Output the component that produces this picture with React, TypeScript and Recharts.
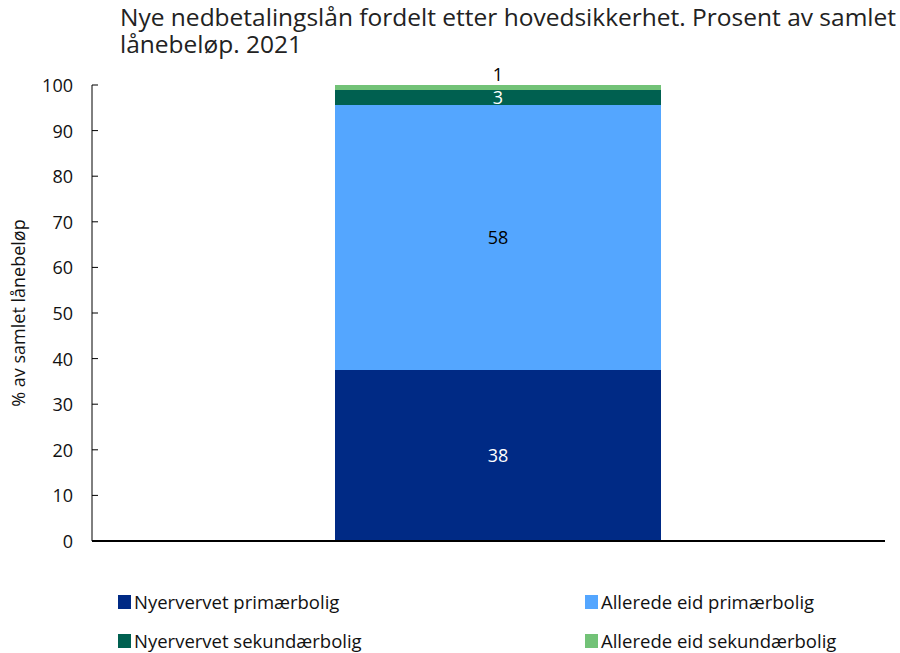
import { BarChart, Bar, XAxis, YAxis, LabelList, Legend } from "recharts";

const years = ["2021"];
const nyervervetPrimaer = [37.5];
const allerdeEidPrimaer = [58.1];
const nyervervetSekundaer = [3.3];
const allerdeEidSekundaer = [1.1];
const yTicks = [0, 10, 20, 30, 40, 50, 60, 70, 80, 90, 100];

const series = [
  { key: "np", name: "Nyervervet primærbolig", color: "#002A85", label: "#ffffff" },
  { key: "ap", name: "Allerede eid primærbolig", color: "#54A6FF", label: "#000000" },
  { key: "ns", name: "Nyervervet sekundærbolig", color: "#006050", label: "#ffffff" },
  { key: "as", name: "Allerede eid sekundærbolig", color: "#72C277", label: "#000000" },
];

const data = years.map((year, i) => ({
  year,
  np: nyervervetPrimaer[i],
  ap: allerdeEidPrimaer[i],
  ns: nyervervetSekundaer[i],
  as: allerdeEidSekundaer[i],
}));

const font = "'Open Sans', 'Noto Sans', sans-serif";

function LegendBox() {
  const pos = [
    { left: 118, top: 589 },
    { left: 585, top: 589 },
    { left: 118, top: 628 },
    { left: 585, top: 628 },
  ];
  return (
    <div>
      {series.map((s, i) => (
        <div
          key={s.key}
          style={{
            position: "absolute",
            left: pos[i].left,
            top: pos[i].top,
            display: "flex",
            alignItems: "center",
            fontSize: 18.5,
            color: "#111",
            fontFamily: font,
            whiteSpace: "nowrap",
          }}>
          <span style={{ width: 13, height: 14, background: s.color, display: "inline-block", marginRight: 3 }} />
          {s.name}
        </div>
      ))}
    </div>
  );
}

// inward tick marks like the original
function YTick(props: any) {
  const { x, y, payload } = props;
  return (
    <g>
      <line x1={x + 19} x2={x + 25} y1={y} y2={y} stroke="#000" />
      <text x={x} y={y} textAnchor="end" dominantBaseline="central" fontSize={18} fill="#111" fontFamily={font}>
        {payload.value}
      </text>
    </g>
  );
}

export default function App() {
  return (
    <div style={{ position: "absolute", left: 0, top: 0, width: 900, height: 653, fontFamily: font }}>
      <div
        style={{
          position: "absolute",
          left: 120,
          top: 3,
          width: 790,
          fontSize: 24.5,
          lineHeight: "27px",
          color: "#222",
        }}>
        Nye nedbetalingslån fordelt etter hovedsikkerhet. Prosent av samlet lånebeløp. 2021
      </div>
      <BarChart
        width={900}
        height={653}
        data={data}
        margin={{ top: 85, right: 15, left: 0, bottom: 82 }}
        barSize={326}>
        <XAxis
          dataKey="year"
          tick={false}
          tickLine={false}
          axisLine={{ stroke: "#000", strokeWidth: 2 }}
          padding={{ left: 18, right: 0 }}
          height={30}
        />
        <YAxis
          width={92}
          domain={[0, 100]}
          ticks={yTicks}
          interval={0}
          tickSize={0}
          tickMargin={19}
          axisLine={{ stroke: "#000" }}
          tickLine={false}
          tick={<YTick />}
          label={({ viewBox }: any) => (
            <text
              x={18}
              y={viewBox.y + viewBox.height / 2}
              transform={`rotate(-90, 18, ${viewBox.y + viewBox.height / 2})`}
              textAnchor="middle"
              dominantBaseline="central"
              fontSize={18}
              fill="#111"
              fontFamily={font}>
              % av samlet lånebeløp
            </text>
          )}
        />
        <Legend content={() => <LegendBox />} wrapperStyle={{ position: "absolute", left: 0, top: 0 }} />
        {series.map((s, i) => (
          <Bar key={s.key} dataKey={s.key} name={s.name} stackId="a" fill={s.color} isAnimationActive={false}>
            <LabelList
              dataKey={s.key}
              position={i === 3 ? "top" : "center"}
              offset={i === 3 ? 4 : 5}
              formatter={(v: any) => Math.round(Number(v))}
              style={{ fill: i === 3 ? "#000" : s.label, fontSize: 18, fontFamily: font }}
            />
          </Bar>
        ))}
      </BarChart>
    </div>
  );
}
